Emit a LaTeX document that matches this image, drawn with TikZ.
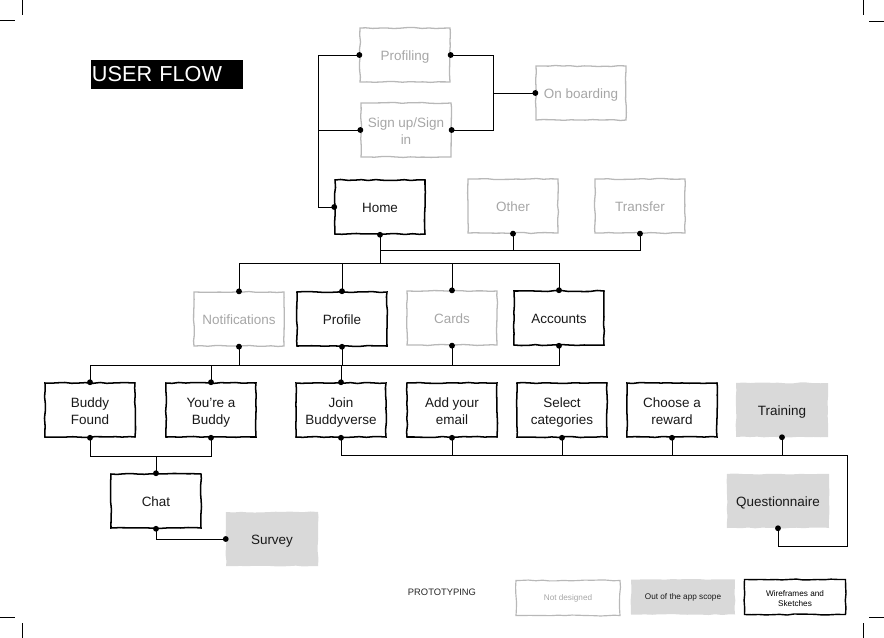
\documentclass[tikz,border=0pt]{standalone}
\usepackage{fontspec}
\setmainfont{Liberation Sans}
\usetikzlibrary{decorations}
\usetikzlibrary{decorations.pathmorphing}
\usetikzlibrary{calc}

\definecolor{lightline}{HTML}{B8B8B8}
\definecolor{lighttext}{HTML}{A6A6A6}
\definecolor{scopefill}{HTML}{D9D9D9}

\newcommand{\topgap}{\rule{0pt}{14pt}}
\newcommand{\bottomgap}{\rule[-4.35pt]{0pt}{4.35pt}}
\newcommand{\smallgap}{\rule{0pt}{8pt}}

\begin{document}
\begin{tikzpicture}[x = 0.03cm, y = -0.03cm,
    sketch/.style = {decorate, decoration = {random steps, segment length = 6pt, amplitude = 0.45pt}},
    boxtext/.style = {align = center, font = \fontsize{11.5}{14.5}\selectfont, text = black!90, execute at begin node = \topgap, execute at end node = \bottomgap},
    screen/.style = {sketch, boxtext, draw = black, line width = 1.3pt, minimum width = 2.7cm, minimum height = 1.62cm},
    todo/.style = {screen, draw = lightline, line width = 1.1pt, text = lighttext},
    outside/.style = {sketch, boxtext, fill = scopefill, minimum width = 2.76cm, minimum height = 1.62cm},
    legend/.style = {minimum width = 3.12cm, minimum height = 1.05cm, align = center, font = \fontsize{7}{8.5}\selectfont},
    wire/.style = {black, line width = 0.75pt}]

            \useasboundingbox (0,0) rectangle (884,638);

            % crop marks
            \draw[black, line width = 0.6pt] (22,0) -- (22,15);
            \draw[black, line width = 0.6pt] (0,20) -- (15,20);
            \draw[black, line width = 0.6pt] (863,0) -- (863,15);
            \draw[black, line width = 0.6pt] (869,21) -- (884,21);
            \draw[black, line width = 0.6pt] (0,617) -- (15,617);
            \draw[black, line width = 0.6pt] (22,623) -- (22,638);
            \draw[black, line width = 0.6pt] (869,617) -- (884,617);
            \draw[black, line width = 0.6pt] (863,623) -- (863,638);

            \pgfmathsetseed{7}

            \node[fill = black, text = white, minimum width = 4.56cm, minimum height = 0.87cm, text width = 4.5cm, inner xsep = 1pt, align = left, font = \fontsize{18.5}{20}\selectfont] (title) at (167,74.5) {USER FLOW};

            \node[todo] (profiling) at (405,55) {Profiling};
            \node[todo] (signup) at (406,130) {\topgap Sign up/Sign\\in};
            \node[todo] (onboard) at (581,93) {On boarding};

            \node[screen] (home) at (380,207) {Home};
            \node[todo] (other) at (513,206) {Other};
            \node[todo] (transfer) at (640,206) {Transfer};

            \node[todo] (notif) at (239,319) {Notifications};
            \node[screen] (profile) at (342,319) {Profile};
            \node[todo] (cards) at (452,318) {Cards};
            \node[screen] (accounts) at (559,318) {Accounts};

            \node[screen] (bfound) at (90,410) {\topgap Buddy\\Found};
            \node[screen] (ubuddy) at (211,410) {\topgap You’re a\\Buddy};
            \node[screen] (join) at (341,410) {\topgap Join\\Buddyverse};
            \node[screen] (email) at (452,410) {\topgap Add your\\email};
            \node[screen] (categ) at (562,410) {\topgap Select\\categories};
            \node[screen] (reward) at (672,410) {\topgap Choose a\\reward};
            \node[outside] (training) at (782,410) {Training};

            \node[screen] (chat) at (156,501) {Chat};
            \node[outside, minimum width = 2.76cm] (survey) at (272,539) {Survey};
            \node[outside, minimum width = 3.06cm] (quest) at (778,501) {Questionnaire};

            % legend
            \node[font = \fontsize{8}{10}\selectfont, text = black!85] (proto) at (442,592) {PROTOTYPING};
            \node[legend, sketch, draw = lightline, line width = 1pt, text = lighttext] (notdes) at (568,598) {Not designed};
            \node[legend, sketch, fill = scopefill, text = black!90] (scope) at (683,597) {Out of the app scope};
            \node[legend, sketch, draw = black, line width = 1.2pt, minimum width = 3.03cm, text = black] (wire) at (795,597) {\smallgap Wireframes and\\Sketches};

            % bus lines
            \coordinate (lx) at (318,0);
            \coordinate (rx) at (493,0);
            \coordinate (qx) at (847,0);
            \coordinate (b1) at (0,250);
            \coordinate (b2) at (0,263);
            \coordinate (b3) at (0,365);
            \coordinate (b4) at (0,456);
            \coordinate (b5) at (0,455);
            \coordinate (b6) at (0,546);

            \draw[wire] (profiling.west) -| (lx |- home.west) -- (home.west);
            \draw[wire] (signup.west) -- (lx |- signup.west);
            \draw[wire] (profiling.east) -| (rx |- onboard.west) -- (onboard.west);
            \draw[wire] (signup.east) -| (rx |- onboard.west);

            \draw[wire] (home.south) |- (transfer.south |- b1) -- (transfer.south);
            \draw[wire] (other.south) -- (other.south |- b1);
            \draw[wire] (home.south) -- (home.south |- b2);
            \draw[wire] (notif.north) |- (accounts.north |- b2) -- (accounts.north);
            \draw[wire] (profile.north) -- (profile.north |- b2);
            \draw[wire] (cards.north) -- (cards.north |- b2);

            \draw[wire] (bfound.north) |- (accounts.south |- b3) -- (accounts.south);
            \foreach \n in {notif.south, profile.south, cards.south, ubuddy.north, join.north}
                \draw[wire] (\n) -- (\n |- b3);

            \draw[wire] (bfound.south) |- (ubuddy.south |- b4) -- (ubuddy.south);
            \draw[wire] (chat.north) -- (chat.north |- b4);
            \draw[wire] (chat.south) |- (survey.west);

            \draw[wire] (join.south) |- (qx |- b5) -- (qx |- b6) -| (quest.south);
            \foreach \n in {email.south, categ.south, reward.south, training.south}
                \draw[wire] (\n) -- (\n |- b5);

            % dots
            \foreach \n in {profiling.west, profiling.east, signup.west, signup.east, onboard.west,
                            home.west, home.south, other.south, transfer.south,
                            notif.north, profile.north, cards.north, accounts.north,
                            notif.south, profile.south, cards.south, accounts.south,
                            bfound.north, ubuddy.north, join.north, bfound.south, ubuddy.south,
                            join.south, email.south, categ.south, reward.south, training.south,
                            chat.north, chat.south, survey.west, quest.south}
                \fill[black] (\n) circle[radius = 2.5pt];
        \end{tikzpicture}
\end{document}
